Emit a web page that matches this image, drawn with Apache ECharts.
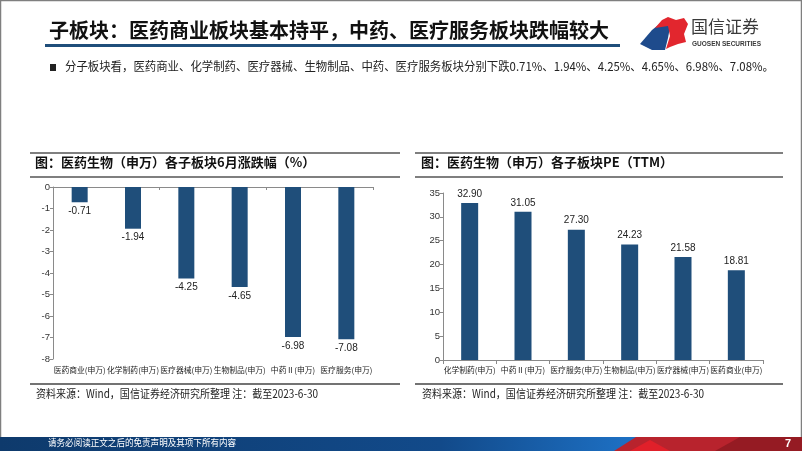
<!DOCTYPE html>
<html>
<head>
<meta charset="utf-8">
<script src="https://cdn.jsdelivr.net/npm/echarts@6/dist/echarts.min.js"></script>
<style>
html,body{margin:0;padding:0;background:#fff;}
#c{width:802px;height:451px;}
</style>
</head>
<body>
<div id="c"></div>
<script>
// ---- data ----
var leftCategories = ['医药商业(申万)','化学制药(申万)','医疗器械(申万)','生物制品(申万)','中药Ⅱ(申万)','医疗服务(申万)'];
var leftValues = [-0.71, -1.94, -4.25, -4.65, -6.98, -7.08];
var rightCategories = ['化学制药(申万)','中药Ⅱ(申万)','医疗服务(申万)','生物制品(申万)','医疗器械(申万)','医药商业(申万)'];
var rightValues = [32.90, 31.05, 27.30, 24.23, 21.58, 18.81];

var pageTitle = '子板块：医药商业板块基本持平，中药、医疗服务板块跌幅较大';
var bulletText = '分子板块看，医药商业、化学制药、医疗器械、生物制品、中药、医疗服务板块分别下跌0.71%、1.94%、4.25%、4.65%、6.98%、7.08%。';
var leftTitle = '图：医药生物（申万）各子板块6月涨跌幅（%）';
var rightTitle = '图：医药生物（申万）各子板块PE（TTM）';
var sourceText = '资料来源：Wind，国信证券经济研究所整理 注：截至2023-6-30';
var footerText = '请务必阅读正文之后的免责声明及其项下所有内容';
var pageNo = '7';

var CJK = '"Noto Sans CJK SC", sans-serif';
var NUM = '"Liberation Sans", Arial, sans-serif';
var barColor = '#1F4E7A';
var axisColor = '#8a8a8a';

var chart = echarts.init(document.getElementById('c'), null, {renderer: 'canvas'});

function hline(x1, x2, y, w, c) {
  return {type: 'line', shape: {x1: x1, y1: y, x2: x2, y2: y}, style: {stroke: c, lineWidth: w}, silent: true};
}

var option = {
  backgroundColor: '#fff',
  animation: false,
  grid: [
    {left: 53, top: 187, width: 320, height: 172, containLabel: false},
    {left: 443, top: 193, width: 320, height: 167, containLabel: false}
  ],
  xAxis: [
    { // left labels at bottom
      type: 'category', gridIndex: 0, data: leftCategories, position: 'bottom',
      axisLine: {show: false, onZero: false}, axisTick: {show: false},
      axisLabel: {interval: 0, fontFamily: CJK, fontSize: 7.8, color: '#222', margin: 7}
    },
    { // left zero line at top
      type: 'category', gridIndex: 0, data: leftCategories, position: 'top',
      axisLine: {show: true, onZero: false, lineStyle: {color: axisColor, width: 1}},
      axisTick: {show: true, inside: true, length: 3, lineStyle: {color: axisColor}},
      axisLabel: {show: false}
    },
    {
      type: 'category', gridIndex: 1, data: rightCategories,
      axisLine: {show: true, lineStyle: {color: axisColor, width: 1}},
      axisTick: {show: true, length: 4, lineStyle: {color: axisColor}},
      axisLabel: {interval: 0, fontFamily: CJK, fontSize: 7.8, color: '#222', margin: 6}
    }
  ],
  yAxis: [
    {
      type: 'value', gridIndex: 0, min: -8, max: 0, interval: 1,
      axisLine: {show: true, lineStyle: {color: axisColor, width: 1}},
      axisTick: {show: true, length: 3, lineStyle: {color: axisColor}},
      axisLabel: {fontFamily: NUM, fontSize: 9.5, color: '#333', margin: 3},
      splitLine: {show: false}
    },
    {
      type: 'value', gridIndex: 1, min: 0, max: 35, interval: 5,
      axisLine: {show: true, lineStyle: {color: axisColor, width: 1}},
      axisTick: {show: true, length: 3, lineStyle: {color: axisColor}},
      axisLabel: {fontFamily: NUM, fontSize: 9.5, color: '#333', margin: 3},
      splitLine: {show: false}
    }
  ],
  series: [
    {
      type: 'bar', xAxisIndex: 0, yAxisIndex: 0, data: leftValues, barWidth: 16,
      itemStyle: {color: barColor},
      label: {show: true, position: 'bottom', distance: 4, fontFamily: NUM, fontSize: 10, color: '#222',
        formatter: function (p) { return p.value.toFixed(2); }}
    },
    {
      type: 'bar', xAxisIndex: 2, yAxisIndex: 1, data: rightValues, barWidth: 17,
      itemStyle: {color: barColor},
      label: {show: true, position: 'top', distance: 4, fontFamily: NUM, fontSize: 10, color: '#222',
        formatter: function (p) { return p.value.toFixed(2); }}
    }
  ],
  graphic: [
    // page border
    {type: 'rect', shape: {x: 0.5, y: 0.5, width: 801, height: 450}, style: {fill: 'none', stroke: '#7f7f7f', lineWidth: 1.5}, silent: true},
    // title
    {type: 'text', left: 49, top: 20, style: {text: pageTitle, font: 'bold 20px ' + CJK, fill: '#111'}},
    {type: 'rect', shape: {x: 45, y: 44, width: 575, height: 3}, style: {fill: '#1F4E7A'}},
    // logo
    {type: 'polygon', shape: {points: [[640,44],[652,30],[662,22],[670,27],[668,38],[665,50],[652,50]]}, style: {fill: '#1E4B8C'}},
    {type: 'polygon', shape: {points: [[655,28],[662,20],[668,17],[676,20],[684,18],[688,24],[684,34],[686,42],[678,44],[670,47],[666,49],[670,36],[668,26]]}, style: {fill: '#E2262E'}},
    {type: 'text', left: 691, top: 18, style: {text: '国信证券', font: '17px ' + CJK, fill: '#3a3a3a'}},
    {type: 'text', left: 692, top: 41, style: {text: 'GUOSEN SECURITIES', font: 'bold 6.5px ' + NUM, fill: '#3a3a3a'}},
    // bullet
    {type: 'rect', shape: {x: 50, y: 64, width: 6, height: 7}, style: {fill: '#222'}},
    {type: 'text', x: 65, y: 60, scaleX: 0.95, style: {text: bulletText, font: '12px ' + CJK, fill: '#222'}},
    // chart title frames
    hline(30, 400, 153, 1.5, '#555'), hline(30, 400, 177, 1.5, '#555'),
    hline(415, 783, 153, 1.5, '#555'), hline(415, 783, 177, 1.5, '#555'),
    {type: 'text', left: 35, top: 156, style: {text: leftTitle, font: 'bold 13px ' + CJK, fill: '#111'}},
    {type: 'text', left: 421, top: 156, style: {text: rightTitle, font: 'bold 13px ' + CJK, fill: '#111'}},
    // source lines
    hline(30, 400, 384, 1.5, '#444'), hline(415, 783, 384, 1.5, '#444'),
    {type: 'text', x: 36, y: 388, scaleX: 0.87, style: {text: sourceText, font: '11.5px ' + CJK, fill: '#222'}},
    {type: 'text', x: 422, y: 388, scaleX: 0.87, style: {text: sourceText, font: '11.5px ' + CJK, fill: '#222'}},
    // footer
    {type: 'rect', shape: {x: 0, y: 437, width: 802, height: 14},
      style: {fill: new echarts.graphic.LinearGradient(0, 0, 1, 0, [
        {offset: 0, color: '#0E3A6C'}, {offset: 0.55, color: '#124a8a'}, {offset: 0.78, color: '#1d6fc2'}, {offset: 1, color: '#1d6fc2'}])}},
    {type: 'polygon', shape: {points: [[614,451],[636,437],[802,437],[802,451]]}, style: {fill: '#B8232D'}},
    {type: 'polygon', shape: {points: [[630,451],[650,440],[670,451]]}, style: {fill: '#E0202A'}},
    {type: 'polygon', shape: {points: [[715,451],[740,437],[802,437],[802,451]]}, style: {fill: '#951B23'}},
    {type: 'text', x: 48, y: 438, scaleX: 0.9, style: {text: footerText, font: '9.5px ' + CJK, fill: '#fff'}},
    {type: 'text', left: 785, top: 438, style: {text: pageNo, font: 'bold 11px ' + NUM, fill: '#fff'}}
  ]
};
chart.setOption(option);
</script>
</body>
</html>
